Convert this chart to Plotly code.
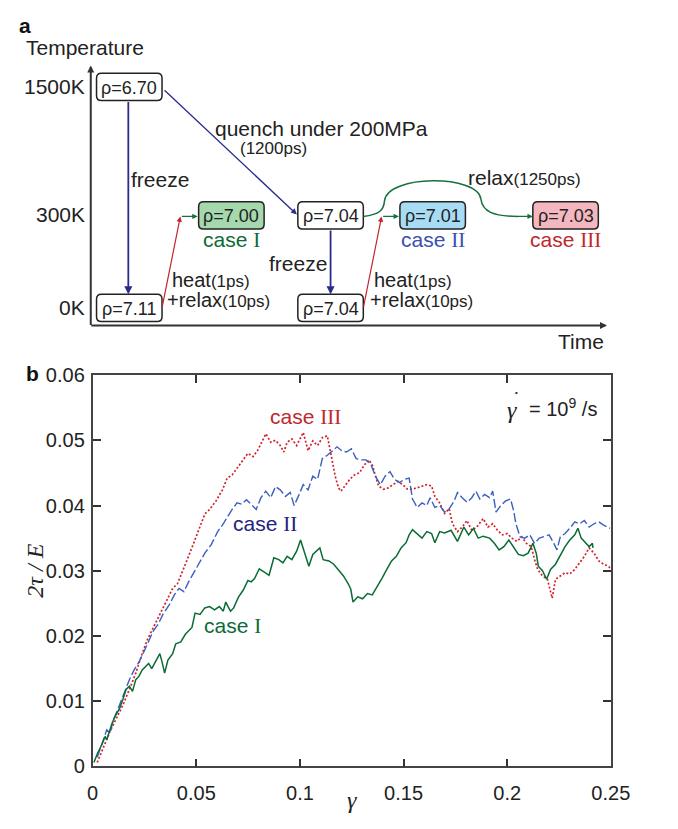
import plotly.graph_objects as go

# ---------------- panel b data: shear stress 2tau/E vs shear strain gamma ----------------
case1_gamma = [0.0006, 0.0022, 0.0045, 0.006, 0.0068, 0.008, 0.0091, 0.0107, 0.013, 0.0146, 0.0161, 0.0177,
               0.0192, 0.0208, 0.0223, 0.0239, 0.0254, 0.027, 0.0285, 0.0301, 0.0316, 0.0324, 0.0335, 0.0347,
               0.0363, 0.0386, 0.0401, 0.0425, 0.0448, 0.0463, 0.0479, 0.0494, 0.0518, 0.0541, 0.0564, 0.0588,
               0.0611, 0.063, 0.0642, 0.0665, 0.068, 0.0704, 0.0726, 0.0749, 0.0765, 0.0781, 0.0804, 0.0828,
               0.0851, 0.0874, 0.0898, 0.0918, 0.0938, 0.0961, 0.0984, 0.1003, 0.1023, 0.1043, 0.1062, 0.1078,
               0.1096, 0.1112, 0.114, 0.1163, 0.1186, 0.121, 0.1233, 0.1245, 0.1256, 0.1279, 0.1302, 0.1326,
               0.1349, 0.1372, 0.1395, 0.1419, 0.1442, 0.1465, 0.1488, 0.1512, 0.1527, 0.1543, 0.1566, 0.1589,
               0.1612, 0.1635, 0.1651, 0.1674, 0.1698, 0.1729, 0.176, 0.1791, 0.1814, 0.1837, 0.186, 0.1884,
               0.1915, 0.1938, 0.1961, 0.1984, 0.2008, 0.2031, 0.2054, 0.2078, 0.2101, 0.2124, 0.214, 0.215,
               0.217, 0.219, 0.2209, 0.2233, 0.2256, 0.2279, 0.2302, 0.2326, 0.2341, 0.2357, 0.238, 0.2395,
               0.2411, 0.2414]
case1_stress = [0.0006, 0.0019, 0.0034, 0.0046, 0.0041, 0.0054, 0.0064, 0.0076, 0.0089, 0.0103, 0.0118, 0.0123,
                0.0115, 0.0133, 0.0138, 0.0148, 0.0153, 0.0158, 0.015, 0.016, 0.0168, 0.0173, 0.016, 0.0143,
                0.0163, 0.0173, 0.0188, 0.0191, 0.0203, 0.0208, 0.0213, 0.0235, 0.0233, 0.0243, 0.0245, 0.024,
                0.0245, 0.0238, 0.0252, 0.0238, 0.0243, 0.026, 0.027, 0.0285, 0.0283, 0.0288, 0.0303, 0.0298,
                0.0293, 0.032, 0.0317, 0.0312, 0.0322, 0.0317, 0.033, 0.0347, 0.0327, 0.0307, 0.0325, 0.033,
                0.0335, 0.0317, 0.0315, 0.031, 0.0302, 0.0292, 0.028, 0.0272, 0.0252, 0.026, 0.0257, 0.0265,
                0.0263, 0.0275, 0.0288, 0.0302, 0.0315, 0.0322, 0.0335, 0.0343, 0.0355, 0.0363, 0.0357, 0.035,
                0.036, 0.0357, 0.0343, 0.036, 0.0358, 0.0362, 0.0345, 0.0367, 0.0355, 0.0365, 0.035, 0.0353,
                0.035, 0.0342, 0.0332, 0.0337, 0.0347, 0.0335, 0.0325, 0.0323, 0.0327, 0.0342, 0.0327, 0.0307,
                0.03, 0.0287, 0.0302, 0.031, 0.0323, 0.0337, 0.0347, 0.0355, 0.0365, 0.035, 0.0342, 0.0337,
                0.0342, 0.0335]

case2_gamma = [0.0022, 0.0053, 0.0068, 0.0084, 0.0099, 0.0122, 0.0146, 0.0177, 0.02, 0.0223, 0.0246, 0.027,
               0.0293, 0.0316, 0.0339, 0.037, 0.0394, 0.0417, 0.044, 0.0463, 0.0487, 0.051, 0.0541, 0.0572,
               0.0603, 0.0626, 0.0649, 0.0673, 0.0696, 0.0719, 0.0742, 0.0766, 0.0789, 0.0812, 0.0835, 0.0859,
               0.0882, 0.0905, 0.093, 0.0953, 0.0972, 0.0992, 0.1016, 0.1039, 0.1062, 0.1085, 0.1108, 0.1132,
               0.1155, 0.1179, 0.1202, 0.1225, 0.1248, 0.1271, 0.1295, 0.1318, 0.1341, 0.1364, 0.1388, 0.1411,
               0.1434, 0.1457, 0.148, 0.1503, 0.1527, 0.1543, 0.1566, 0.1589, 0.1612, 0.1628, 0.1651, 0.1674,
               0.1698, 0.172, 0.1744, 0.176, 0.1783, 0.1806, 0.1829, 0.1849, 0.1868, 0.1891, 0.1915, 0.193,
               0.1946, 0.1969, 0.1992, 0.2016, 0.2031, 0.2042, 0.2062, 0.2085, 0.2109, 0.2132, 0.2155, 0.2178,
               0.2202, 0.2225, 0.224, 0.2256, 0.2279, 0.2302, 0.2326, 0.2349, 0.2372, 0.2395, 0.2419, 0.2442,
               0.2465, 0.2496]
case2_stress = [0.0014, 0.0044, 0.0056, 0.0051, 0.0071, 0.0088, 0.0108, 0.0133, 0.0148, 0.016, 0.0175, 0.0193,
                0.0208, 0.0218, 0.0233, 0.0248, 0.0263, 0.0273, 0.0268, 0.0283, 0.0297, 0.031, 0.0327, 0.034,
                0.036, 0.037, 0.0382, 0.0394, 0.0404, 0.0402, 0.0409, 0.0402, 0.0394, 0.0412, 0.0422, 0.0412,
                0.0429, 0.0424, 0.0414, 0.042, 0.04, 0.0414, 0.0432, 0.0424, 0.0445, 0.044, 0.0472, 0.0477,
                0.0484, 0.049, 0.0484, 0.0482, 0.0487, 0.0472, 0.047, 0.047, 0.0464, 0.0445, 0.0432, 0.0445,
                0.0452, 0.044, 0.0435, 0.044, 0.0442, 0.041, 0.0397, 0.0404, 0.04, 0.0412, 0.0397, 0.04,
                0.039, 0.0395, 0.0407, 0.042, 0.0412, 0.0405, 0.0412, 0.0422, 0.041, 0.0417, 0.0412, 0.0422,
                0.039, 0.04, 0.0407, 0.041, 0.0392, 0.0372, 0.0352, 0.035, 0.0355, 0.0342, 0.035, 0.0352,
                0.0355, 0.0342, 0.0332, 0.0352, 0.0357, 0.0365, 0.0375, 0.0372, 0.0377, 0.0367, 0.0372, 0.0375,
                0.037, 0.0365]

case3_gamma = [0.0022, 0.0053, 0.0084, 0.0115, 0.0146, 0.0177, 0.0208, 0.0239, 0.0262, 0.0285, 0.0308, 0.0339,
               0.0363, 0.0386, 0.0409, 0.0432, 0.0456, 0.0487, 0.0518, 0.0541, 0.0564, 0.0595, 0.0626, 0.0649,
               0.0673, 0.0704, 0.0726, 0.0749, 0.0774, 0.0797, 0.082, 0.0836, 0.0859, 0.0882, 0.0905, 0.0922,
               0.0938, 0.0961, 0.0984, 0.1016, 0.1039, 0.1062, 0.1085, 0.1108, 0.1132, 0.1139, 0.1155, 0.117,
               0.1186, 0.1198, 0.1217, 0.124, 0.1263, 0.1287, 0.131, 0.1333, 0.1349, 0.1364, 0.1379, 0.1403,
               0.1426, 0.1449, 0.1473, 0.1496, 0.1519, 0.1543, 0.1566, 0.1589, 0.1612, 0.1635, 0.1651, 0.1674,
               0.1698, 0.172, 0.1736, 0.176, 0.1783, 0.1806, 0.1829, 0.1853, 0.1884, 0.1907, 0.193, 0.1953,
               0.1977, 0.2, 0.2023, 0.2047, 0.207, 0.2093, 0.2116, 0.2132, 0.2147, 0.217, 0.2194, 0.2217,
               0.2233, 0.2256, 0.2279, 0.2302, 0.2326, 0.2349, 0.2372, 0.2395, 0.2419, 0.2442, 0.2465, 0.2488,
               0.25]
case3_stress = [0.0006, 0.0029, 0.0054, 0.0074, 0.0094, 0.0118, 0.0143, 0.0173, 0.0193, 0.0208, 0.0223, 0.0243,
                0.026, 0.0273, 0.028, 0.0297, 0.0317, 0.0342, 0.0367, 0.0387, 0.0394, 0.0407, 0.0424, 0.0442,
                0.0447, 0.046, 0.047, 0.048, 0.0475, 0.0485, 0.05, 0.051, 0.0497, 0.05, 0.0492, 0.0482,
                0.0497, 0.0502, 0.0492, 0.0512, 0.0484, 0.0499, 0.0492, 0.0504, 0.0507, 0.0497, 0.047, 0.0445,
                0.0427, 0.0422, 0.043, 0.044, 0.0447, 0.045, 0.0462, 0.047, 0.0462, 0.0445, 0.043, 0.0425,
                0.0427, 0.0432, 0.0437, 0.0432, 0.0425, 0.0425, 0.0427, 0.043, 0.0432, 0.043, 0.0414, 0.0404,
                0.0388, 0.0395, 0.0372, 0.036, 0.0367, 0.0377, 0.0362, 0.0367, 0.038, 0.0367, 0.0372, 0.0362,
                0.0355, 0.0357, 0.035, 0.0345, 0.0352, 0.0342, 0.0337, 0.0317, 0.0302, 0.0292, 0.0287, 0.0258,
                0.0287, 0.0292, 0.0297, 0.0295, 0.0302, 0.0312, 0.0322, 0.0335, 0.0327, 0.0315, 0.031, 0.0307,
                0.0303]

x_ticks = [0, 0.05, 0.1, 0.15, 0.2, 0.25]
x_tick_labels = ["0", "0.05", "0.1", "0.15", "0.2", "0.25"]
y_ticks = [0, 0.01, 0.02, 0.03, 0.04, 0.05, 0.06]
y_tick_labels = ["0", "0.01", "0.02", "0.03", "0.04", "0.05", "0.06"]

# ---------------- panel a data: preparation protocol ----------------
temperature_labels = ["1500K", "300K", "0K"]
densities = ["ρ=6.70", "ρ=7.11", "ρ=7.00", "ρ=7.04", "ρ=7.04", "ρ=7.01", "ρ=7.03"]
case_names = ["case I", "case II", "case III"]

# ---------------- styles ----------------
GREEN = "#0b6b35"
BLUE = "#3c5fbf"
RED = "#d0232b"
NAVY = "#23237a"
SANS = "Liberation Sans, Arial, sans-serif"
SERIF = "Liberation Serif, Times New Roman, serif"
TXT = "#222222"

fig = go.Figure()

fig.add_trace(go.Scatter(x=case3_gamma, y=case3_stress, mode="lines",
                         line=dict(color=RED, width=1.7, dash="2px,2px"), showlegend=False))
fig.add_trace(go.Scatter(x=case2_gamma, y=case2_stress, mode="lines",
                         line=dict(color=BLUE, width=1.4, dash="9px,3px"), showlegend=False))
fig.add_trace(go.Scatter(x=case1_gamma, y=case1_stress, mode="lines",
                         line=dict(color=GREEN, width=1.5), showlegend=False))

axis_common = dict(showgrid=False, zeroline=False, ticks="inside", ticklen=8, tickwidth=1.5,
                   tickcolor="#333", showline=True, linecolor="#444", linewidth=1.8, mirror="ticks",
                   tickfont=dict(family=SANS, size=20, color=TXT))

W, H = 678, 829

fig.update_layout(
    width=W, height=H, margin=dict(l=0, r=0, t=0, b=0),
    paper_bgcolor="white", plot_bgcolor="rgba(0,0,0,0)",
    xaxis=dict(domain=[90 / W, 628 / W], range=[0, 0.25], tickvals=x_ticks, ticklabelstandoff=8,
               ticktext=x_tick_labels, anchor="y", **axis_common),
    yaxis=dict(domain=[1 - 776 / H, 1 - 374 / H], range=[0, 0.06], tickvals=y_ticks, ticklabelstandoff=2,
               ticktext=y_tick_labels, anchor="x", **axis_common),
    # canvas axes for the schematic, in pixel-like units
    xaxis2=dict(domain=[0, 1], range=[0, W], visible=False, anchor="y2", fixedrange=True),
    yaxis2=dict(domain=[0, 1], range=[H, 0], visible=False, anchor="x2", fixedrange=True),
)

annotations = []
shapes = []


def roman_case(name, numeral):
    return name.replace(" " + numeral, " <span style='font-family:Liberation Serif'>" + numeral + "</span>")


def label(x, y, s, size=21, color=TXT, family=SANS, ref="x2", **kw):
    return dict(xref=ref, yref="y" if ref == "x" else "y2", x=x, y=y, text=s, showarrow=False,
                font=dict(family=family, size=size, color=color), **kw)


# ---- panel b labels ----
annotations += [
    label(359, 810, "<i>γ</i>", 24, family=SERIF),
    label(30, 575, "<i>2τ / E</i>", 24, family=SERIF, textangle=-90),
    label(28, 372, "<b>b</b>", 21, "#111"),
    label(0.1028, 0.0536, roman_case(case_names[2], "III"), 21, "#c0282d", ref="x"),
    label(0.0833, 0.0372, roman_case(case_names[1], "II"), 21, NAVY, ref="x"),
    label(0.0674, 0.0215, roman_case(case_names[0], "I"), 21, GREEN, ref="x"),
    # strain rate: gamma with an overdot, then the value
    label(525, 410, "<i>γ</i>", 24, family=SERIF),
    label(530, 392, "•", 8),
    label(578, 407, "= 10<sup>9</sup> /s", 20),
]

# ---- panel a: axes ----
AX_X, AX_Y0, AX_Y1, AX_X1 = 88, 323, 56, 624
annotations += [
    dict(xref="x2", yref="y2", axref="x2", ayref="y2", x=AX_X, y=AX_Y1, ax=AX_X, ay=AX_Y0 + 1, text="",
         showarrow=True, arrowhead=2, arrowsize=0.7, arrowwidth=2, arrowcolor="#333", standoff=0),
    dict(xref="x2", yref="y2", axref="x2", ayref="y2", x=AX_X1, y=AX_Y0, ax=AX_X - 1, ay=AX_Y0, text="",
         showarrow=True, arrowhead=2, arrowsize=0.7, arrowwidth=2, arrowcolor="#333", standoff=0),
    label(20, 15, "<b>a</b>", 21, "#111"),
    label(82, 38, "Temperature"),
    label(597, 340, "Time"),
]
temp_rows = [78, 209, 305]
for lab, yy in zip(temperature_labels, temp_rows):
    annotations.append(label(84, yy, lab, xanchor="right"))

# ---- panel a: state boxes ----
box_centers = [(128, 78), (128, 305), (234, 210), (337, 210), (337, 305), (443, 210), (581, 210)]
box_fills = ["white", "white", "#a6d8ad", "white", "white", "#a8dcf4", "#f5b7bf"]
BW, BH, R = 68, 28, 5


def rounded_box(cx, cy):
    x0, x1 = cx - BW / 2, cx + BW / 2
    y0, y1 = cy - BH / 2, cy + BH / 2
    return (f"M {x0 + R},{y0} L {x1 - R},{y0} Q {x1},{y0} {x1},{y0 + R} "
            f"L {x1},{y1 - R} Q {x1},{y1} {x1 - R},{y1} L {x0 + R},{y1} "
            f"Q {x0},{y1} {x0},{y1 - R} L {x0},{y0 + R} Q {x0},{y0} {x0 + R},{y0} Z")


for (cx, cy), fill, lab in zip(box_centers, box_fills, densities):
    shapes.append(dict(type="path", xref="x2", yref="y2", path=rounded_box(cx, cy),
                       fillcolor=fill, line=dict(color="#222", width=1.5), layer="above"))
    annotations.append(label(cx, cy + 1, lab, 18))

case_pos = [(234, 235), (443, 235), (581, 235)]
case_cols = [GREEN, "#3a4fb0", "#c0282d"]
roman = ["I", "II", "III"]
for (cx, cy), col, name, rn in zip(case_pos, case_cols, case_names, roman):
    annotations.append(label(cx, cy, roman_case(name, rn), 21, col))

# ---- panel a: process arrows ----
ARROW_NAVY = "#2b2b8c"
ARROW_RED = "#c4262e"
ARROW_GREEN = "#17703f"


def arrow(x0, y0, x1, y1, col, w=1.5):
    return dict(xref="x2", yref="y2", axref="x2", ayref="y2", x=x1, y=y1, ax=x0, ay=y0, text="",
                showarrow=True, arrowhead=2, arrowsize=0.9, arrowwidth=w, arrowcolor=col, standoff=0)


annotations += [
    arrow(127, 92, 127, 291, ARROW_NAVY, 1.8),
    arrow(163, 80, 302, 209, ARROW_NAVY, 1.3),
    arrow(337, 224, 337, 291, ARROW_NAVY, 1.8),
    arrow(162, 305, 181, 211, ARROW_RED, 1.2),
    arrow(181, 211, 199, 211, ARROW_GREEN, 1.2),
    arrow(371, 305, 390, 211, ARROW_RED, 1.2),
    arrow(390, 211, 408, 211, ARROW_GREEN, 1.2),
    arrow(530, 211, 547, 211, ARROW_GREEN, 1.2),
]
shapes.append(dict(type="path", xref="x2", yref="y2",
                   path="M 371,211 C 388,209 392,205 393,195 C 396,168 490,168 493,193 "
                        "C 495,206 505,211 532,211",
                   line=dict(color=ARROW_GREEN, width=1.5)))

# ---- panel a: process labels ----
SMALL = "<span style='font-size:17px'>"
annotations += [
    label(160, 173, "freeze"),
    label(303, 259, "freeze"),
    label(328, 121, "quench under 200MPa"),
    label(278, 141, "(1200ps)", 17),
    label(213, 276, "heat" + SMALL + "(1ps)</span>", 20),
    label(221, 297, "+relax" + SMALL + "(10ps)</span>", 20),
    label(423, 276, "heat" + SMALL + "(1ps)</span>", 20),
    label(431, 297, "+relax" + SMALL + "(10ps)</span>", 20),
    label(538, 171, "relax" + SMALL + "(1250ps)</span>"),
]

fig.update_layout(annotations=annotations, shapes=shapes)
fig.write_html("out.html")
